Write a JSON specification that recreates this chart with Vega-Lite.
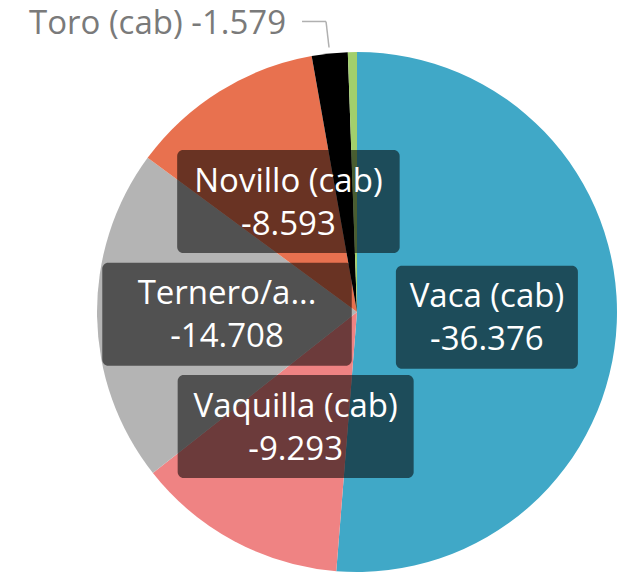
{
  "$schema": "https://vega.github.io/schema/vega-lite/v6.json",
  "width": 520,
  "height": 520,
  "autosize": {"type": "none"},
  "padding": {"left": 97, "top": 52, "right": 3, "bottom": 3},
  "background": "white",
  "config": {
    "view": {"stroke": null},
    "locale": {"number": {"decimal": ",", "thousands": ".", "grouping": [3], "currency": ["", " €"], "minus": "-"}}
  },
  "data": {
    "values": [
      {"categoria": "Vaca (cab)", "cabezas": -36376},
      {"categoria": "Vaquilla (cab)", "cabezas": -9293},
      {"categoria": "Ternero/a (cab)", "cabezas": -14708},
      {"categoria": "Novillo (cab)", "cabezas": -8593},
      {"categoria": "Toro (cab)", "cabezas": -1579},
      {"categoria": "Buey (cab)", "cabezas": -400}
    ]
  },
  "transform": [
    {"window": [{"op": "row_number", "as": "orden"}]},
    {"window": [{"op": "sum", "field": "cabezas", "as": "acum"}], "sort": [{"field": "orden"}], "frame": [null, 0]},
    {"joinaggregate": [{"op": "sum", "field": "cabezas", "as": "total"}]},
    {"calculate": "2*PI*(datum.acum - datum.cabezas/2)/datum.total", "as": "medio"},
    {"calculate": "130*sin(datum.medio)", "as": "cx"},
    {"calculate": "130*cos(datum.medio)", "as": "cy"},
    {"calculate": "47 + 13.5*length(datum.categoria)", "as": "ancho"},
    {"calculate": "datum.cx - datum.ancho/2", "as": "bx1"},
    {"calculate": "datum.cx + datum.ancho/2", "as": "bx2"},
    {"calculate": "datum.cy - 51.5", "as": "by1"},
    {"calculate": "datum.cy + 51.5", "as": "by2"},
    {"calculate": "length(datum.categoria) > 14 ? slice(datum.categoria, 0, 9) + '...' : datum.categoria", "as": "etiqueta"},
    {"calculate": "format(datum.cabezas, ',d')", "as": "valor"},
    {"calculate": "266*sin(datum.medio)", "as": "sx"},
    {"calculate": "266*cos(datum.medio)", "as": "sy"},
    {"calculate": "datum.sx - 3", "as": "ex"},
    {"calculate": "datum.sy + 26", "as": "ey"},
    {"calculate": "datum.ex - 24", "as": "hx"},
    {"calculate": "datum.hx - 16", "as": "tx"},
    {"calculate": "datum.categoria + ' ' + datum.valor", "as": "externa"}
  ],
  "layer": [
    {
      "mark": {"type": "arc", "stroke": null},
      "encoding": {
        "theta": {"field": "cabezas", "type": "quantitative", "stack": true, "scale": {"reverse": true}},
        "order": {"field": "orden", "type": "quantitative"},
        "color": {
          "field": "categoria",
          "type": "nominal",
          "scale": {
            "domain": ["Vaca (cab)", "Vaquilla (cab)", "Ternero/a (cab)", "Novillo (cab)", "Toro (cab)", "Buey (cab)"],
            "range": ["#40a8c7", "#ef8383", "#b4b4b4", "#e8714f", "#000000", "#a2cf6c"]
          },
          "legend": null
        }
      }
    },
    {
      "transform": [{"filter": "datum.cabezas < -5000"}],
      "mark": {"type": "rect", "color": "#000000", "opacity": 0.55, "cornerRadius": 6},
      "encoding": {
        "x": {"field": "bx1", "type": "quantitative", "scale": {"domain": [-260, 260], "nice": false, "zero": false}, "axis": null},
        "x2": {"field": "bx2"},
        "y": {"field": "by1", "type": "quantitative", "scale": {"domain": [-260, 260], "nice": false, "zero": false}, "axis": null},
        "y2": {"field": "by2"}
      }
    },
    {
      "transform": [{"filter": "datum.cabezas < -5000"}],
      "mark": {"type": "text", "color": "#ffffff", "font": "Open Sans", "fontSize": 33, "baseline": "middle", "align": "center", "dy": -20},
      "encoding": {
        "x": {"field": "cx", "type": "quantitative", "scale": {"domain": [-260, 260], "nice": false, "zero": false}, "axis": null},
        "y": {"field": "cy", "type": "quantitative", "scale": {"domain": [-260, 260], "nice": false, "zero": false}, "axis": null},
        "text": {"field": "etiqueta"}
      }
    },
    {
      "transform": [{"filter": "datum.cabezas < -5000"}],
      "mark": {"type": "text", "color": "#ffffff", "font": "Open Sans", "fontSize": 33, "baseline": "middle", "align": "center", "dy": 23},
      "encoding": {
        "x": {"field": "cx", "type": "quantitative", "scale": {"domain": [-260, 260], "nice": false, "zero": false}, "axis": null},
        "y": {"field": "cy", "type": "quantitative", "scale": {"domain": [-260, 260], "nice": false, "zero": false}, "axis": null},
        "text": {"field": "valor"}
      }
    },
    {
      "transform": [{"filter": "datum.categoria == 'Toro (cab)'"}],
      "mark": {"type": "rule", "color": "#b0b0b0", "strokeWidth": 1.5},
      "encoding": {
        "x": {"field": "hx", "type": "quantitative", "scale": {"domain": [-260, 260], "nice": false, "zero": false}, "axis": null},
        "x2": {"field": "ex"},
        "y": {"field": "ey", "type": "quantitative", "scale": {"domain": [-260, 260], "nice": false, "zero": false}, "axis": null},
        "y2": {"field": "ey"}
      }
    },
    {
      "transform": [{"filter": "datum.categoria == 'Toro (cab)'"}],
      "mark": {"type": "rule", "color": "#b0b0b0", "strokeWidth": 1.5},
      "encoding": {
        "x": {"field": "ex", "type": "quantitative", "scale": {"domain": [-260, 260], "nice": false, "zero": false}, "axis": null},
        "x2": {"field": "sx"},
        "y": {"field": "ey", "type": "quantitative", "scale": {"domain": [-260, 260], "nice": false, "zero": false}, "axis": null},
        "y2": {"field": "sy"}
      }
    },
    {
      "transform": [{"filter": "datum.categoria == 'Toro (cab)'"}],
      "mark": {"type": "text", "color": "#7a7a7a", "font": "Open Sans", "fontSize": 33, "baseline": "middle", "align": "right", "dy": 3},
      "encoding": {
        "x": {"field": "tx", "type": "quantitative", "scale": {"domain": [-260, 260], "nice": false, "zero": false}, "axis": null},
        "y": {"field": "ey", "type": "quantitative", "scale": {"domain": [-260, 260], "nice": false, "zero": false}, "axis": null},
        "text": {"field": "externa"}
      }
    }
  ]
}
